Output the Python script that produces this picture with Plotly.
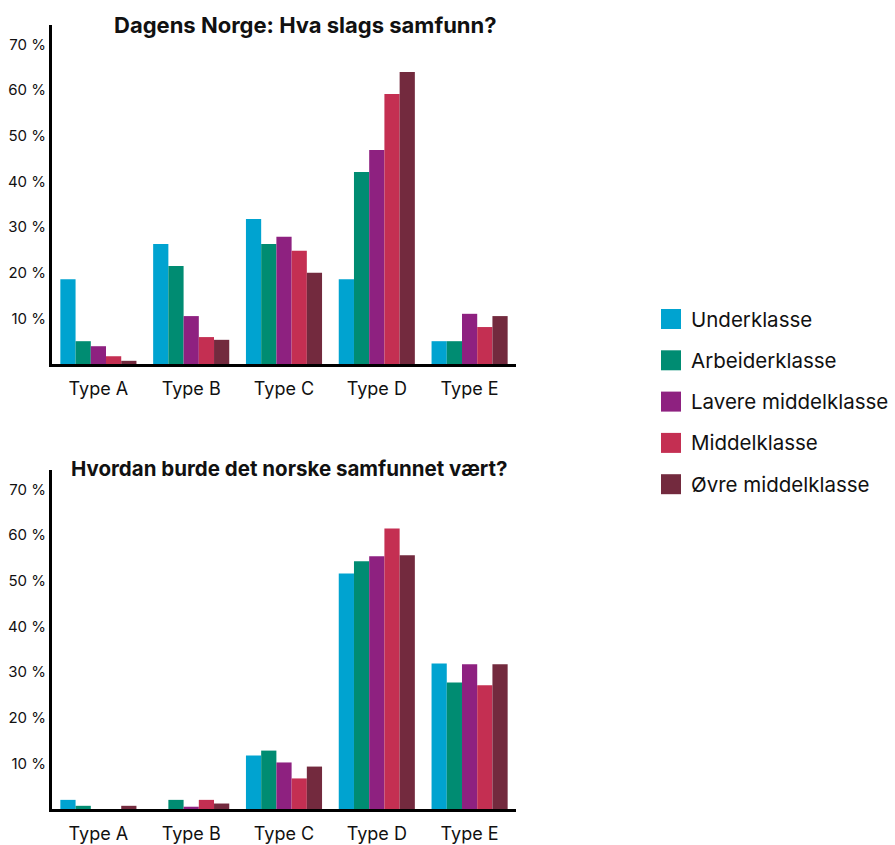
import plotly.graph_objects as go

categories = ["Type A", "Type B", "Type C", "Type D", "Type E"]
series_names = ["Underklasse", "Arbeiderklasse", "Lavere middelklasse", "Middelklasse", "Øvre middelklasse"]
colors = ["#00A3D0", "#008C72", "#8E2180", "#C42F52", "#732A3E"]

# Top: Dagens Norge
today_under = [18.6, 26.3, 31.8, 18.6, 5.0]
today_arb = [5.0, 21.5, 26.3, 42.1, 5.0]
today_lav = [3.9, 10.5, 27.9, 46.9, 11.0]
today_mid = [1.7, 5.9, 24.8, 59.2, 8.1]
today_ovre = [0.7, 5.3, 20.0, 64.0, 10.5]

# Bottom: Hvordan burde det vært
ideal_under = [2.0, 0.0, 11.7, 51.6, 31.9]
ideal_arb = [0.7, 2.0, 12.8, 54.3, 27.7]
ideal_lav = [0.0, 0.5, 10.2, 55.4, 31.7]
ideal_mid = [0.0, 2.0, 6.7, 61.5, 27.1]
ideal_ovre = [0.7, 1.2, 9.3, 55.6, 31.7]

y_tickvals = [10, 20, 30, 40, 50, 60, 70]
y_ticktext = ["10 %", "20 %", "30 %", "40 %", "50 %", "60 %", "70 %"]

title_top = "Dagens Norge: Hva slags samfunn?"
title_bottom = "Hvordan burde det norske samfunnet vært?"

W, H = 895, 845
FONT = "Inter, Lato, sans-serif"

def px_x(x):
    return x / W

def px_y(y):
    return (H - y) / H

fig = go.Figure()

top_series = [today_under, today_arb, today_lav, today_mid, today_ovre]
bottom_series = [ideal_under, ideal_arb, ideal_lav, ideal_mid, ideal_ovre]

for name, col, vals in zip(series_names, colors, top_series):
    fig.add_trace(go.Bar(x=categories, y=vals, name=name, marker=dict(color=col, line=dict(width=0)),
                         xaxis="x", yaxis="y", showlegend=False))
for name, col, vals in zip(series_names, colors, bottom_series):
    fig.add_trace(go.Bar(x=categories, y=vals, name=name, marker=dict(color=col, line=dict(width=0)),
                         xaxis="x2", yaxis="y2", showlegend=False))

axis_common_x = dict(
    showgrid=False, zeroline=False, showline=True, linecolor="black", linewidth=3,
    ticks="", tickfont=dict(family=FONT, size=18, color="#111"), ticklabelstandoff=6,
)
axis_common_y = dict(
    range=[0, 74.3], showgrid=False, zeroline=False, showline=True, linecolor="black", linewidth=3,
    ticks="", tickvals=y_tickvals, ticktext=y_ticktext,
    tickfont=dict(family=FONT, size=15, color="#111"), ticklabelstandoff=0,
)

fig.update_layout(
    width=W, height=H,
    margin=dict(l=0, r=0, t=0, b=0),
    paper_bgcolor="white", plot_bgcolor="white",
    barmode="group", bargap=0.18, bargroupgap=0,
    xaxis=dict(domain=[px_x(52), px_x(516)], anchor="y", **axis_common_x),
    yaxis=dict(domain=[px_y(364), px_y(25)], anchor="x", **axis_common_y),
    xaxis2=dict(domain=[px_x(52), px_x(516)], anchor="y2", **axis_common_x),
    yaxis2=dict(domain=[px_y(809), px_y(470)], anchor="x2", **axis_common_y),
    showlegend=False,
)

annotations = [
    dict(text="<b>" + title_top + "</b>", x=px_x(305), y=px_y(25), xref="paper", yref="paper",
         xanchor="center", yanchor="middle", showarrow=False,
         font=dict(family=FONT, size=22, color="#111")),
    dict(text="<b>" + title_bottom + "</b>", x=px_x(289), y=px_y(468), xref="paper", yref="paper",
         xanchor="center", yanchor="middle", showarrow=False,
         font=dict(family=FONT, size=20.5, color="#111")),
]
shapes = []
legend_y0 = 319
legend_dy = 41.3
for i, (name, col) in enumerate(zip(series_names, colors)):
    yc = legend_y0 + i * legend_dy
    shapes.append(dict(type="rect", xref="paper", yref="paper",
                       x0=px_x(661), x1=px_x(681), y0=px_y(yc + 10), y1=px_y(yc - 10),
                       fillcolor=col, line=dict(width=0)))
    annotations.append(dict(text=name, x=px_x(689), y=px_y(yc), xref="paper", yref="paper",
                            xanchor="left", yanchor="middle", showarrow=False,
                            font=dict(family=FONT, size=20.5, color="#111")))

fig.update_layout(annotations=annotations, shapes=shapes)

fig.write_html("out.html", config={"displayModeBar": False},
               post_script="document.body.style.margin='0';document.body.style.overflow='hidden';")
